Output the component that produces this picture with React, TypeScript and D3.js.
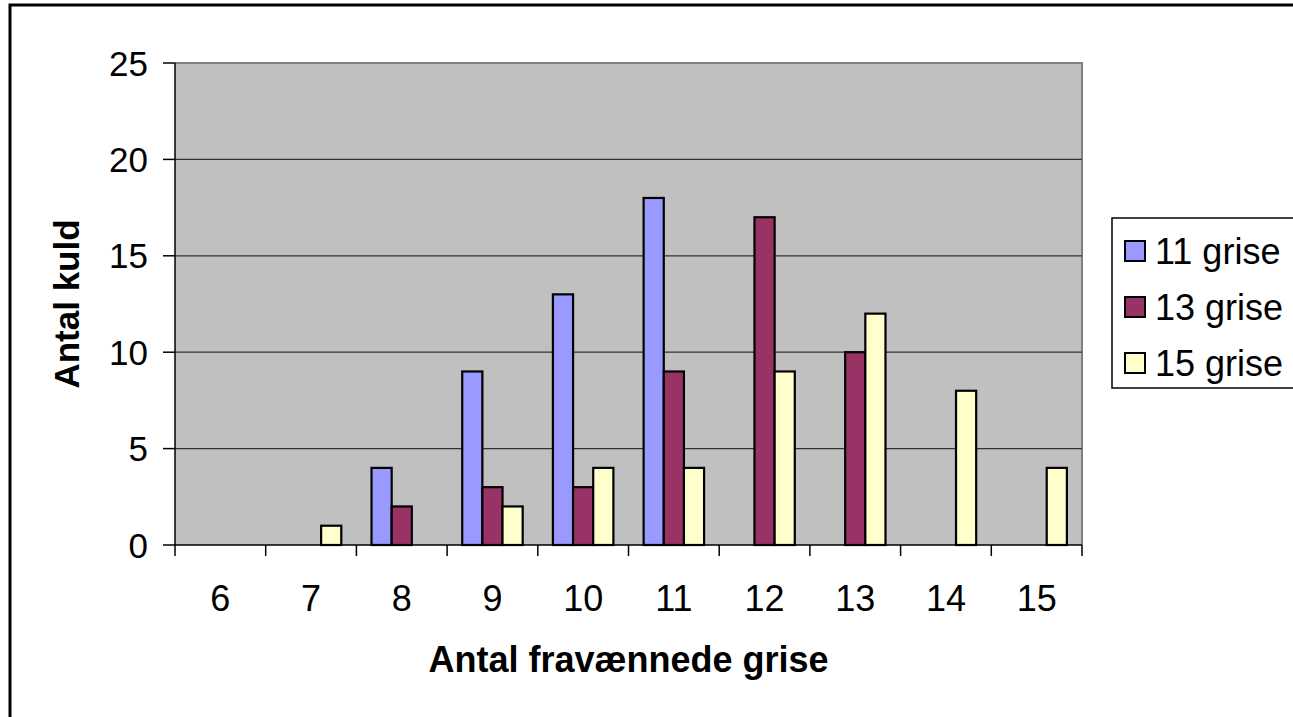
import React from "react";
import { scaleBand, scaleLinear } from "d3";

// x categories (antal fravænnede grise)
const categories = ["6", "7", "8", "9", "10", "11", "12", "13", "14", "15"];
const seriesNames = ["11 grise", "13 grise", "15 grise"];
const seriesColors = ["#9999FF", "#993366", "#FFFFCC"];
// values per series, null = no bar
const grise11 = [null, null, 4, 9, 13, 18, null, null, null, null];
const grise13 = [null, null, 2, 3, 3, 9, 17, 10, null, null];
const grise15 = [null, 1, null, 2, 4, 4, 9, 12, 8, 4];
const yTicks = [0, 5, 10, 15, 20, 25];

const seriesValues = [grise11, grise13, grise15];

const W = 1293;
const H = 717;
const plot = { left: 175, right: 1082, top: 63, bottom: 545 };
const font = "'Liberation Sans', Arial, sans-serif";

const App = () => {
  const x = scaleBand<string>()
    .domain(categories)
    .range([plot.left, plot.right])
    .padding(0);
  const inner = scaleBand<string>()
    .domain(seriesNames)
    .range([0, x.bandwidth()])
    .paddingInner(0)
    .paddingOuter(0.75);
  const y = scaleLinear().domain([0, 25]).range([plot.bottom, plot.top]);

  return (
    <div style={{ position: "absolute", left: 0, top: 0 }}>
      <svg width={W} height={H} style={{ display: "block" }} fontFamily={font}>
        <rect x={0} y={0} width={W} height={H} fill="#fff" />
        {/* outer chart border */}
        <rect x={10} y={5} width={W + 20} height={H + 20} fill="none" stroke="#000" strokeWidth={3} />

        {/* plot area */}
        <rect
          x={plot.left}
          y={plot.top}
          width={plot.right - plot.left}
          height={plot.bottom - plot.top}
          fill="#C0C0C0"
        />
        <path
          d={`M${plot.left},${plot.top}H${plot.right}V${plot.bottom}`}
          fill="none"
          stroke="#808080"
          strokeWidth={2}
        />
        {yTicks.filter((t) => t > 0 && t < 25).map((t) => (
          <line key={t} x1={plot.left} x2={plot.right} y1={y(t)} y2={y(t)} stroke="#333" strokeWidth={1.2} />
        ))}

        {/* bars */}
        {seriesValues.map((vals, si) =>
          vals.map((v, ci) =>
            v == null ? null : (
              <rect
                key={`${si}-${ci}`}
                x={(x(categories[ci]) as number) + (inner(seriesNames[si]) as number)}
                y={y(v)}
                width={inner.bandwidth()}
                height={y(0) - y(v)}
                fill={seriesColors[si]}
                stroke="#000"
                strokeWidth={2.2}
              />
            )
          )
        )}

        {/* y axis */}
        <line x1={plot.left} x2={plot.left} y1={plot.top} y2={plot.bottom} stroke="#000" strokeWidth={1.5} />
        {yTicks.map((t) => (
          <g key={t}>
            <line x1={plot.left - 12} x2={plot.left} y1={y(t)} y2={y(t)} stroke="#000" strokeWidth={1.5} />
            <text x={148} y={y(t)} dy="0.36em" textAnchor="end" fontSize={35}>
              {t}
            </text>
          </g>
        ))}

        {/* x axis */}
        <line x1={plot.left} x2={plot.right} y1={plot.bottom} y2={plot.bottom} stroke="#000" strokeWidth={1.5} />
        {[...categories.map((c) => x(c) as number), plot.right].map((px, i) => (
          <line key={i} x1={px} x2={px} y1={plot.bottom} y2={plot.bottom + 11} stroke="#000" strokeWidth={1.5} />
        ))}
        {categories.map((c) => (
          <text key={c} x={(x(c) as number) + x.bandwidth() / 2} y={611} textAnchor="middle" fontSize={36}>
            {c}
          </text>
        ))}

        {/* axis titles */}
        <text x={(plot.left + plot.right) / 2} y={672} textAnchor="middle" fontSize={36} fontWeight="bold">
          Antal fravænnede grise
        </text>
        <text
          transform={`translate(79,${(plot.top + plot.bottom) / 2}) rotate(-90)`}
          textAnchor="middle"
          fontSize={35}
          fontWeight="bold"
        >
          Antal kuld
        </text>

        {/* legend */}
        <rect x={1112} y={218} width={W} height={170} fill="#fff" stroke="#000" strokeWidth={1.5} />
        {seriesNames.map((s, i) => (
          <g key={s} transform={`translate(0,${251 + i * 56})`}>
            <rect x={1125} y={-10} width={20} height={20} fill={seriesColors[i]} stroke="#000" strokeWidth={2} />
            <text x={1155} y={0} dy="0.36em" fontSize={36}>
              {s}
            </text>
          </g>
        ))}
      </svg>
    </div>
  );
};

export default App;
